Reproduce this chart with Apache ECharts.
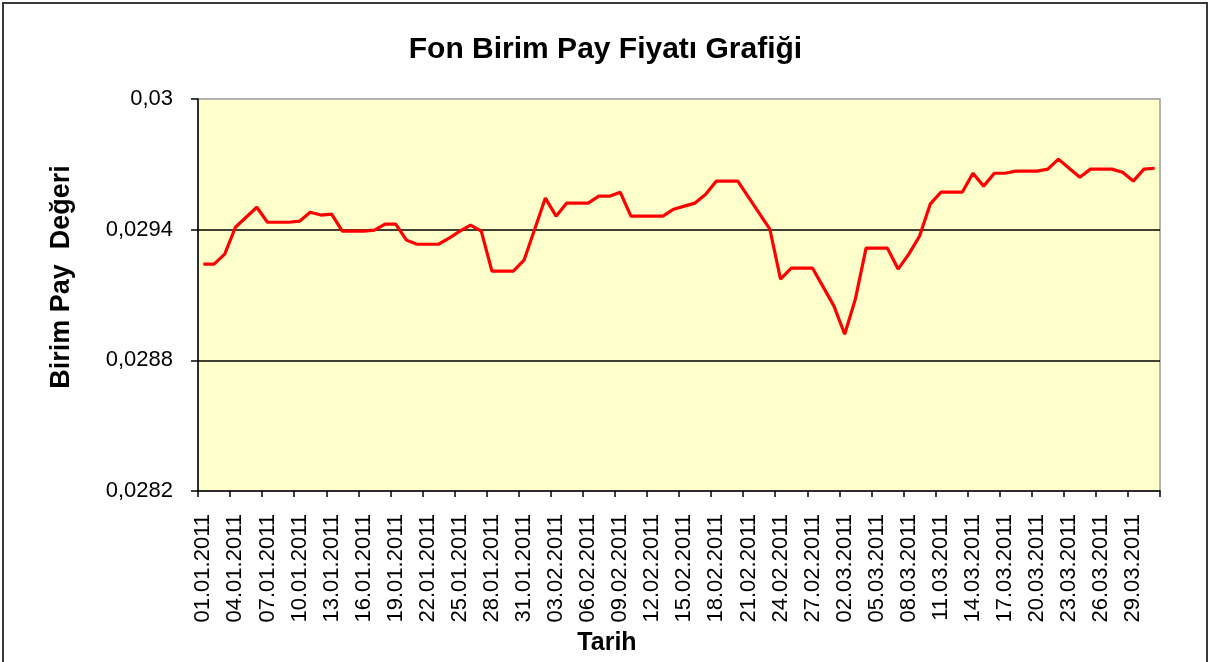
<!DOCTYPE html>
<html>
<head>
<meta charset="utf-8">
<script src="https://cdn.jsdelivr.net/npm/echarts@6/dist/echarts.min.js"></script>
<style>
html,body{margin:0;padding:0;background:#fff;}
#chart{width:1211px;height:662px;}
</style>
</head>
<body>
<div id="chart"></div>
<script>
var titleText = 'Fon Birim Pay Fiyatı Grafiği';
var xAxisName = 'Tarih';
var yAxisName = 'Birim Pay  Değeri';

var dates = [
'01.01.2011','02.01.2011','03.01.2011','04.01.2011','05.01.2011','06.01.2011','07.01.2011','08.01.2011','09.01.2011','10.01.2011',
'11.01.2011','12.01.2011','13.01.2011','14.01.2011','15.01.2011','16.01.2011','17.01.2011','18.01.2011','19.01.2011','20.01.2011',
'21.01.2011','22.01.2011','23.01.2011','24.01.2011','25.01.2011','26.01.2011','27.01.2011','28.01.2011','29.01.2011','30.01.2011',
'31.01.2011','01.02.2011','02.02.2011','03.02.2011','04.02.2011','05.02.2011','06.02.2011','07.02.2011','08.02.2011','09.02.2011',
'10.02.2011','11.02.2011','12.02.2011','13.02.2011','14.02.2011','15.02.2011','16.02.2011','17.02.2011','18.02.2011','19.02.2011',
'20.02.2011','21.02.2011','22.02.2011','23.02.2011','24.02.2011','25.02.2011','26.02.2011','27.02.2011','28.02.2011','01.03.2011',
'02.03.2011','03.03.2011','04.03.2011','05.03.2011','06.03.2011','07.03.2011','08.03.2011','09.03.2011','10.03.2011','11.03.2011',
'12.03.2011','13.03.2011','14.03.2011','15.03.2011','16.03.2011','17.03.2011','18.03.2011','19.03.2011','20.03.2011','21.03.2011',
'22.03.2011','23.03.2011','24.03.2011','25.03.2011','26.03.2011','27.03.2011','28.03.2011','29.03.2011','30.03.2011','31.03.2011'
];

var unitPrice = [
0.029242,0.029242,0.029288,0.029411,0.029457,0.029503,0.029434,0.029434,0.029434,0.029439,
0.029480,0.029467,0.029471,0.029393,0.029393,0.029393,0.029398,0.029425,0.029425,0.029352,
0.029333,0.029333,0.029333,0.029361,0.029393,0.029421,0.029393,0.029210,0.029210,0.029210,
0.029260,0.029402,0.029545,0.029462,0.029522,0.029522,0.029522,0.029554,0.029554,0.029572,
0.029462,0.029462,0.029462,0.029462,0.029494,0.029508,0.029522,0.029563,0.029623,0.029623,
0.029623,0.029549,0.029476,0.029402,0.029173,0.029223,0.029223,0.029223,0.029136,0.029049,
0.028920,0.029081,0.029315,0.029315,0.029315,0.029219,0.029288,0.029370,0.029517,0.029572,
0.029572,0.029572,0.029659,0.029600,0.029659,0.029659,0.029669,0.029669,0.029669,0.029678,
0.029724,0.029682,0.029641,0.029678,0.029678,0.029678,0.029664,0.029623,0.029678,0.029682
];

var yTickValues = [0.0282, 0.0288, 0.0294, 0.03];
var yTickLabels = ['0,0282', '0,0288', '0,0294', '0,03'];

var chart = echarts.init(document.getElementById('chart'), null, {renderer: 'canvas'});
var FONT = '"Liberation Sans", Arial, sans-serif';

chart.setOption({
  animation: false,
  backgroundColor: '#ffffff',
  title: {
    text: titleText,
    left: 'center',
    top: 30,
    textStyle: {fontFamily: FONT, fontSize: 30, fontWeight: 'bold', color: '#000'}
  },
  graphic: [{
    type: 'rect',
    silent: true,
    z: 100,
    shape: {x: 3, y: 3, width: 1204, height: 720},
    style: {fill: 'none', stroke: '#3a3a3a', lineWidth: 2}
  }],
  grid: {
    left: 198, right: 51, top: 99, bottom: 171,
    show: true,
    backgroundColor: '#FFFFCC',
    borderColor: '#999999',
    borderWidth: 1.5
  },
  xAxis: {
    type: 'category',
    data: dates,
    boundaryGap: true,
    name: xAxisName,
    nameLocation: 'middle',
    nameGap: 135,
    nameTextStyle: {fontFamily: FONT, fontSize: 25, fontWeight: 'bold', color: '#000', padding: [0, 144, 0, 0]},
    axisLine: {show: true, lineStyle: {color: '#000', width: 1.5}},
    axisTick: {show: true, interval: 2, alignWithLabel: false, length: 6, lineStyle: {color: '#000', width: 1.5}},
    axisLabel: {
      interval: 2,
      rotate: 90,
      margin: 23,
      fontFamily: FONT,
      fontSize: 22,
      color: '#000'
    },
    splitLine: {show: false}
  },
  yAxis: {
    type: 'value',
    min: 0.0282,
    max: 0.03,
    interval: 0.0006,
    name: yAxisName,
    nameLocation: 'middle',
    nameGap: 123,
    nameRotate: 90,
    nameTextStyle: {fontFamily: FONT, fontSize: 27, fontWeight: 'bold', color: '#000', padding: [0, 0, 0, 36]},
    axisLine: {show: true, lineStyle: {color: '#000', width: 1.5}},
    axisTick: {show: true, length: 7, lineStyle: {color: '#000', width: 1.5}},
    axisLabel: {
      margin: 25,
      fontFamily: FONT,
      fontSize: 22,
      color: '#000',
      formatter: function (v) {
        for (var i = 0; i < yTickValues.length; i++) {
          if (Math.abs(v - yTickValues[i]) < 1e-9) return yTickLabels[i];
        }
        return '';
      }
    },
    splitLine: {show: true, showMinLine: false, showMaxLine: false, lineStyle: {color: '#000', width: 1.5}}
  },
  series: [{
    type: 'line',
    data: unitPrice,
    showSymbol: false,
    symbol: 'none',
    smooth: false,
    lineStyle: {color: '#FF0000', width: 3.2},
    itemStyle: {color: '#FF0000'},
    z: 3
  }]
});
</script>
</body>
</html>
